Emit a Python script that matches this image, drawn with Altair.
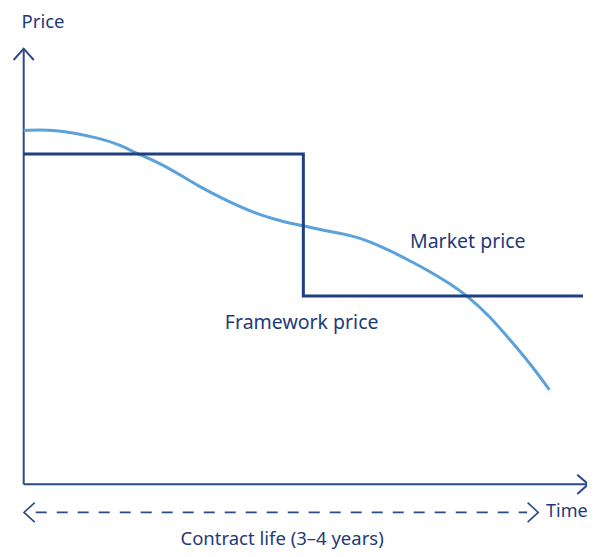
import altair as alt
import pandas as pd

# ---- data (time 0-100, price 0-100) ----
framework_time = [0, 50, 50, 100]
framework_price = [75.8, 75.8, 43.2, 43.2]

market_time = [0, 5.2, 13.6, 17.2, 20.8, 24.4, 28.0, 31.5, 35.1, 38.7, 42.3, 45.8,
               50.0, 54.8, 58.4, 62.0, 65.5, 69.1, 72.7, 76.3, 79.5, 83.4, 87.0,
               90.5, 94.0]
market_price = [81.2, 81.6, 79.5, 77.9, 75.6, 73.7, 71.0, 68.3, 65.9, 63.7, 61.8, 60.5,
                59.3, 58.0, 57.2, 55.7, 53.6, 51.3, 48.8, 46.0, 43.1, 38.5, 33.1,
                27.8, 21.7]

series_labels = ["Market price", "Framework price"]
series_label_time = [79.4, 49.7]
series_label_price = [55.7, 37.1]

frame_labels = ["Price", "Contract life (3–4 years)"]
frame_label_time = [3.45, 46.2]
frame_label_price = [106.2, -12.6]

time_label = ["Time"]
time_label_time = [93.4]
time_label_price = [-6.3]

NAVY = "#1f3f7f"
AXIS = "#2b4a88"
LIGHT = "#5ba2dd"
TEXT = "#1f3a78"
FONT = "Noto Sans"

xs = alt.Scale(domain=[0, 100], range=[15.7, 575.0])
ys = alt.Scale(domain=[0, 100], range=[476.3, 40.7])


def enc(**kw):
    return dict(x=alt.X("t:Q", scale=xs, axis=None),
                y=alt.Y("p:Q", scale=ys, axis=None), **kw)


fw = pd.DataFrame({"t": framework_time, "p": framework_price, "o": range(4)})
mk = pd.DataFrame({"t": market_time, "p": market_price})

# axes and arrows (geometry of the diagram frame)
axes_df = pd.DataFrame({
    "g": ["y", "y", "x", "x",
          "yh", "yh", "yh", "xh", "xh", "xh"],
    "t": [0, 0, 0, 100.95,
          -1.8, 0, 1.8, 98.98, 100.95, 98.98],
    "p": [0, 100, 0, 0,
          97.4, 100, 97.4, 2.2, 0, -2.2],
    "o": [0, 1, 0, 1, 0, 1, 2, 0, 1, 2],
})
dash_df = pd.DataFrame({"t": [2.15, 90.0], "p": [-6.45, -6.45]})
dash_heads = pd.DataFrame({
    "g": ["l", "l", "l", "r", "r", "r"],
    "t": [1.97, 0.05, 1.97, 90.1, 92.0, 90.1],
    "p": [-4.2, -6.45, -8.7, -4.2, -6.45, -8.7],
    "o": [0, 1, 2, 0, 1, 2],
})
lab_series = pd.DataFrame({"t": series_label_time, "p": series_label_price, "txt": series_labels})
lab_frame = pd.DataFrame({"t": frame_label_time, "p": frame_label_price, "txt": frame_labels})
lab_time = pd.DataFrame({"t": time_label_time, "p": time_label_price, "txt": time_label})

axes_layer = alt.Chart(axes_df).mark_line(color=AXIS, strokeWidth=2).encode(
    **enc(detail="g:N", order="o:Q"))
dash_layer = alt.Chart(dash_df).mark_line(color=AXIS, strokeWidth=1.6, strokeDash=[11, 10]).encode(**enc())
dash_head_layer = alt.Chart(dash_heads).mark_line(color=AXIS, strokeWidth=1.6).encode(
    **enc(detail="g:N", order="o:Q"))
fw_layer = alt.Chart(fw).mark_line(color=NAVY, strokeWidth=3, strokeJoin="miter").encode(**enc(order="o:Q"))
mk_layer = alt.Chart(mk).mark_line(color=LIGHT, strokeWidth=3, interpolate="basis").encode(**enc())
series_text = alt.Chart(lab_series).mark_text(color=TEXT, font=FONT, fontSize=19.5, align="center",
                                              baseline="middle").encode(**enc(text="txt:N"))
frame_text = alt.Chart(lab_frame).mark_text(color=TEXT, font=FONT, fontSize=18.5, align="center",
                                            baseline="middle").encode(**enc(text="txt:N"))
time_text = alt.Chart(lab_time).mark_text(color=TEXT, font=FONT, fontSize=18, align="left",
                                          baseline="middle").encode(**enc(text="txt:N"))

chart = alt.layer(axes_layer, dash_layer, dash_head_layer, mk_layer, fw_layer,
                  series_text, frame_text, time_text).properties(
    width=579, height=541, autosize=alt.AutoSizeParams(type="none"), padding=0
).configure_view(stroke=None)

chart.save("out.html", embed_options={"renderer": "svg", "actions": False})
